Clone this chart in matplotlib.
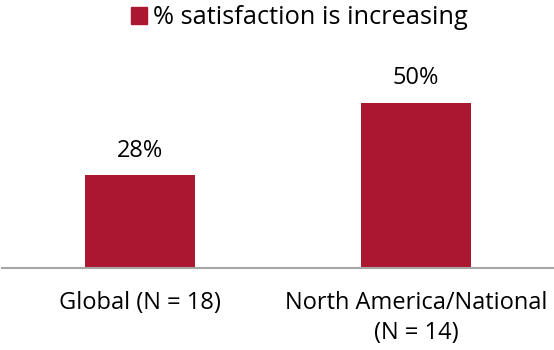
import matplotlib.pyplot as plt
from matplotlib.patches import Patch

categories = ['Global (N = 18)', 'North America/National\n(N = 14)']
values = [28, 50]
series_name = '% satisfaction is increasing'

bar_color = '#AB1730'
plt.rcParams['font.family'] = ['Open Sans', 'DejaVu Sans']

fig = plt.figure(figsize=(5.54, 3.5), dpi=100)
ax = fig.add_axes([2 / 554, 82.5 / 350, 552 / 554, 225.5 / 350])

x = list(range(len(categories)))
bars = ax.bar(x, values, width=0.40, color=bar_color)
ax.set_xlim(-0.5, 1.5)
ax.set_ylim(0, 68.5)

for b, v in zip(bars, values):
    ax.annotate(f'{v}%', (b.get_x() + b.get_width() / 2, v),
                xytext=(0, 9), textcoords='offset points',
                ha='center', va='bottom', fontsize=17, color='black')

ax.set_xticks(x)
ax.set_xticklabels(categories, fontsize=17, linespacing=1.3)
ax.tick_params(axis='x', length=0, pad=17)
ax.set_yticks([])
for s in ['top', 'right', 'left']:
    ax.spines[s].set_visible(False)
ax.spines['bottom'].set_color('#A6A6A6')
ax.spines['bottom'].set_linewidth(1.5)

handle = Patch(color=bar_color)
fig.legend([handle], [series_name], loc='upper center',
           bbox_to_anchor=(0.541, 1.05), frameon=False, fontsize=18.3,
           handlelength=0.62, handleheight=0.62, handletextpad=0.25)

fig.savefig('out.png', dpi=100)
